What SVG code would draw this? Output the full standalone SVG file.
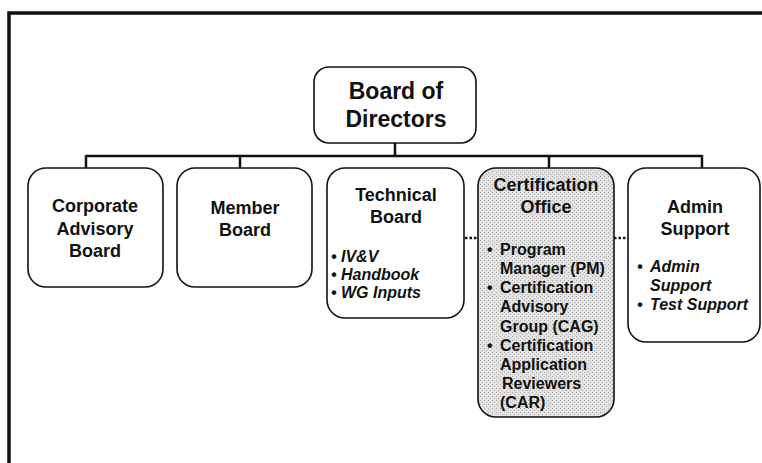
<svg xmlns="http://www.w3.org/2000/svg" width="762" height="463" viewBox="0 0 762 463">
<defs>
<pattern id="stip" width="4" height="4" patternUnits="userSpaceOnUse">
<rect width="4" height="4" fill="#e2e2e2"/>
<rect x="0" y="0" width="1" height="1" fill="#a8a8a8"/>
<rect x="2" y="2" width="1" height="1" fill="#b8b8b8"/>
</pattern>
</defs>
<style>
.box{fill:#fff;stroke:#111;stroke-width:1.6}
.gray{fill:url(#stip)}
.t{font-family:"Liberation Sans",Arial,sans-serif;font-weight:bold;fill:#111;text-anchor:middle}
.b{font-family:"Liberation Sans",Arial,sans-serif;font-weight:bold;fill:#111;font-size:16px}
.i{font-style:italic}
.ln{stroke:#111;stroke-width:2.5;fill:none}
.dot{stroke:#111;stroke-width:2.5;fill:none;stroke-dasharray:2.5 2}
</style>
<rect width="762" height="463" fill="#fff"/>
<g id="frame">
<path d="M9,463 V13 H762" fill="none" stroke="#111" stroke-width="3.5"/>
</g>
<g id="connectors">
<path class="ln" d="M395,143 V156"/>
<path class="ln" d="M86,156 H702"/>
<path class="ln" d="M86,155 V168 M240,155 V168 M549,155 V168 M702,155 V168"/>
<path class="dot" d="M465,238 H478"/>
<path class="dot" d="M614,238 H628"/>
</g>
<g id="board-of-directors">
<rect class="box" x="314" y="67" width="162" height="76" rx="15"/>
<text class="t" x="396" y="99" font-size="23">Board of</text>
<text class="t" x="396" y="127" font-size="23">Directors</text>
</g>
<g id="corporate-advisory-board">
<rect class="box" x="28" y="168" width="135" height="119" rx="18"/>
<text class="t" x="95" y="212" font-size="18">Corporate</text>
<text class="t" x="95" y="235" font-size="18">Advisory</text>
<text class="t" x="95" y="257" font-size="18">Board</text>
</g>
<g id="member-board">
<rect class="box" x="177" y="168" width="135" height="119" rx="18"/>
<text class="t" x="245" y="214" font-size="18">Member</text>
<text class="t" x="245" y="236" font-size="18">Board</text>
</g>
<g id="technical-board">
<rect class="box" x="327" y="168" width="137" height="150" rx="18"/>
<text class="t" x="396" y="201" font-size="18">Technical</text>
<text class="t" x="396" y="223" font-size="18">Board</text>
<text class="b i" x="331" y="262">•</text><text class="b i" x="341" y="262">IV&amp;V</text>
<text class="b i" x="331" y="280">•</text><text class="b i" x="341" y="280">Handbook</text>
<text class="b i" x="331" y="298">•</text><text class="b i" x="341" y="298">WG Inputs</text>
</g>
<g id="certification-office">
<rect class="box gray" x="478" y="168" width="136" height="249" rx="18"/>
<text class="t" x="546" y="191" font-size="18">Certification</text>
<text class="t" x="546" y="213" font-size="18">Office</text>
<text class="b" x="487" y="255">•</text><text class="b" x="500" y="255">Program</text>
<text class="b" x="500" y="274">Manager (PM)</text>
<text class="b" x="487" y="293">•</text><text class="b" x="500" y="293">Certification</text>
<text class="b" x="500" y="312">Advisory</text>
<text class="b" x="500" y="332">Group (CAG)</text>
<text class="b" x="487" y="351">•</text><text class="b" x="500" y="351">Certification</text>
<text class="b" x="500" y="370">Application</text>
<text class="b" x="502" y="389">Reviewers</text>
<text class="b" x="500" y="408">(CAR)</text>
</g>
<g id="admin-support">
<rect class="box" x="628" y="168" width="132" height="174" rx="18"/>
<text class="t" x="695" y="213" font-size="18">Admin</text>
<text class="t" x="695" y="235" font-size="18">Support</text>
<text class="b i" x="637" y="272">•</text><text class="b i" x="650" y="272">Admin</text>
<text class="b i" x="650" y="291">Support</text>
<text class="b i" x="637" y="310">•</text><text class="b i" x="650" y="310">Test Support</text>
</g>
</svg>
